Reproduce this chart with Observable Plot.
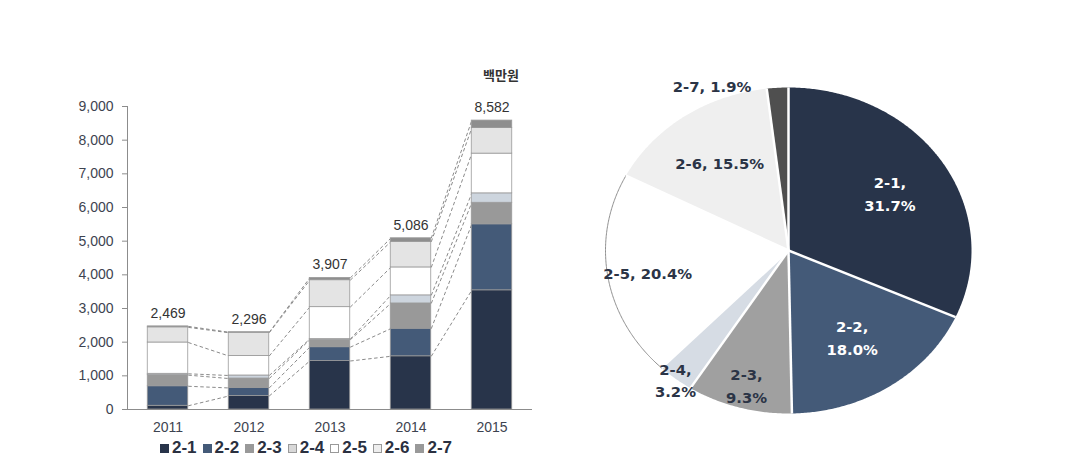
<!DOCTYPE html>
<html><head><meta charset="utf-8">
<script src="https://cdn.jsdelivr.net/npm/d3@7"></script>
<script src="https://cdn.jsdelivr.net/npm/@observablehq/plot@0.6"></script>
<style>
body{margin:0;background:#fff;width:1089px;height:471px;position:relative;overflow:hidden;font-family:"Liberation Sans",Arial,sans-serif}
#bar{position:absolute;left:0;top:0}
#pie{position:absolute;left:580px;top:0}
#unit{position:absolute;left:483px;top:65px;font-weight:bold;font-size:13px;font-family:"Noto Sans CJK KR",sans-serif;color:#333}
#legend{position:absolute;top:438px;left:0;width:612px;display:flex;justify-content:center;align-items:center;font-weight:bold;font-size:17px;color:#2a3040}
#legend .it{display:flex;align-items:center;margin:0 3px}
#legend .sw{display:inline-block;width:9px;height:9px;border:1px solid #999;margin-right:3px;box-sizing:border-box}
</style></head>
<body>
<div id="bar"></div>
<div id="pie"></div>
<div id="unit">백만원</div>
<div id="legend"></div>
<script>
// ---- data ----
const years = [2011, 2012, 2013, 2014, 2015];
const series = ["2-1", "2-2", "2-3", "2-4", "2-5", "2-6", "2-7"];
const s21 = [110, 400, 1440, 1580, 3540];
const s22 = [580, 240, 410, 820, 1960];
const s23 = [330, 280, 220, 750, 640];
const s24 = [40, 90, 20, 240, 280];
const s25 = [930, 580, 950, 830, 1180];
const s26 = [450, 690, 800, 760, 760];
const s27 = [29, 16, 67, 106, 222];
const totals = [2469, 2296, 3907, 5086, 8582];
const pieShares = [31.7, 18.0, 9.3, 3.2, 20.4, 15.5, 1.9];

// ---- styles ----
const barColors = ["#28344a", "#445a78", "#999999", "#cdd5de", "#ffffff", "#e4e4e4", "#8e8e8e"];
const pieColors = ["#28344a", "#445a78", "#a0a0a0", "#d6dce4", "#ffffff", "#efefef", "#4f4f4f"];
const legendColors = ["#28344a", "#445a78", "#999999", "#d8d8d8", "#ffffff", "#eeeeee", "#999999"];
const labelR = [0.66, 0.63, 0.85, 1.0, 0.78, 0.66, 1.03];

// ---- bar chart ----
const barValues = [s21, s22, s23, s24, s25, s26, s27];
const rows = [];
years.forEach((yr, i) => {
  let c = 0;
  series.forEach((s, j) => {
    const v = barValues[j][i];
    rows.push({year: yr, series: s, y1: c, y2: c + v});
    c += v;
  });
});
const links = [];
series.forEach(s => {
  for (let i = 0; i < years.length - 1; i++) {
    const a = rows.find(r => r.year === years[i] && r.series === s);
    const b = rows.find(r => r.year === years[i + 1] && r.series === s);
    links.push({x1: years[i] + 0.25, x2: years[i + 1] - 0.25, y1: a.y2, y2: b.y2});
  }
});

const bar = Plot.plot({
  width: 560, height: 471,
  marginLeft: 127, marginRight: 28, marginTop: 106, marginBottom: 62,
  style: {fontFamily: '"Liberation Sans", Arial, sans-serif', background: "transparent"},
  x: {type: "linear", domain: [2010.5, 2015.5], axis: null},
  y: {domain: [0, 9000], axis: null},
  color: {domain: series, range: barColors},
  marks: [
    Plot.link(links, {x1: "x1", y1: "y1", x2: "x2", y2: "y2", stroke: "#8a8a8a", strokeDasharray: "3.5,2.5", strokeWidth: 1}),
    Plot.rect(rows, {x1: d => d.year - 0.25, x2: d => d.year + 0.25, y1: "y1", y2: "y2", fill: "series", stroke: "#9a9a9a", strokeWidth: 0.8}),
    Plot.ruleX([2010.5], {stroke: "#8c8c8c"}),
    Plot.ruleY([0], {stroke: "#8c8c8c"}),
    Plot.axisY(d3.range(0, 9001, 1000), {tickSize: 5, tickPadding: 9, tickFormat: d3.format(","), fontSize: 14, color: "#3d4350", stroke: "#8c8c8c"}),
    Plot.axisX(years, {tickSize: 0, tickPadding: 13, tickFormat: d => String(d), fontSize: 14, color: "#3d4350"}),
    Plot.text(years, {x: d => d, y: (d, i) => totals[i], text: (d, i) => d3.format(",")(totals[i]), dy: -13, fontSize: 14, fill: "#333"})
  ]
});
document.getElementById("bar").appendChild(bar);

// ---- legend ----
const lg = document.getElementById("legend");
series.forEach((s, i) => {
  const it = document.createElement("span");
  it.className = "it";
  const sw = document.createElement("span");
  sw.className = "sw";
  sw.style.background = legendColors[i];
  if (i < 2) sw.style.borderColor = legendColors[i];
  it.appendChild(sw);
  it.appendChild(document.createTextNode(s));
  lg.appendChild(it);
});

// ---- pie chart ----
const TAU = Math.PI * 2;
function arcPts(a0, a1) {
  const n = Math.max(2, Math.ceil((a1 - a0) / (Math.PI / 360)));
  const pts = [];
  for (let k = 0; k <= n; k++) {
    const a = a0 + (a1 - a0) * k / n;
    pts.push({x: Math.sin(a), y: Math.cos(a)});
  }
  return pts;
}
let acc = 0;
const slices = pieShares.map((v, i) => {
  const a0 = acc / 100 * TAU;
  acc += v;
  const a1 = acc / 100 * TAU;
  const mid = (a0 + a1) / 2;
  return {series: series[i], share: v, a0, a1, mid};
});
const fillMarks = slices.map((s, i) =>
  Plot.line([{x: 0, y: 0}, ...arcPts(s.a0, s.a1), {x: 0, y: 0}], {x: "x", y: "y", fill: pieColors[i], stroke: "none", curve: "linear"})
);
const s5 = slices[4];
const seps = slices.map(s => ({x: Math.sin(s.a0), y: Math.cos(s.a0)}));
const labelData = slices.map((s, i) => ({
  x: labelR[i] * Math.sin(s.mid),
  y: labelR[i] * Math.cos(s.mid),
  text: (i === 4 || i === 5) ? `${s.series}, ${s.share.toFixed(1)}%` : `${s.series},\n${s.share.toFixed(1)}%`,
  fill: i < 2 ? "#ffffff" : "#2b3446",
  i
}));
const pie = Plot.plot({
  width: 420, height: 471,
  marginLeft: 25, marginRight: 29, marginTop: 87, marginBottom: 58,
  style: {background: "transparent", overflow: "visible"},
  x: {domain: [-1, 1], axis: null},
  y: {domain: [-1, 1], axis: null},
  marks: [
    ...fillMarks,
    Plot.line(arcPts(s5.a0, s5.a1), {x: "x", y: "y", stroke: "#8f8f8f", strokeWidth: 1, curve: "linear"}),
    Plot.link(seps, {x1: 0, y1: 0, x2: "x", y2: "y", stroke: "#ffffff", strokeWidth: 2.5}),
    Plot.text(labelData.filter(d => d.i < 6), {x: "x", y: "y", text: "text", fill: "fill", fontSize: 14.8, fontWeight: "bold", fontFamily: '"DejaVu Sans", Verdana, sans-serif', lineHeight: 1.55}),
    Plot.text(labelData.filter(d => d.i === 6), {x: "x", y: "y", text: d => d.text.replace("\n", " "), fill: "fill", textAnchor: "end", dx: -26, dy: 4, fontSize: 14.8, fontWeight: "bold", fontFamily: '"DejaVu Sans", Verdana, sans-serif'})
  ]
});
document.getElementById("pie").appendChild(pie);
</script>
</body></html>
